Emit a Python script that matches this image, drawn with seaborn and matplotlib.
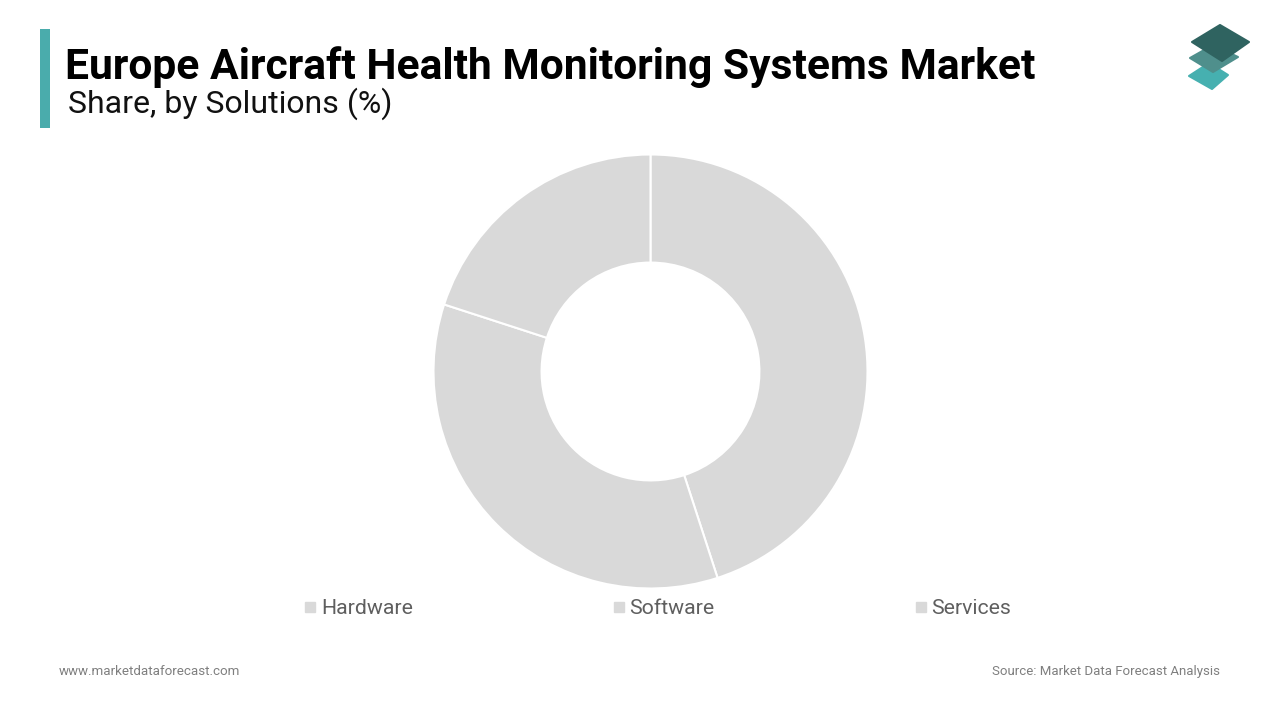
import matplotlib
matplotlib.use("Agg")
import matplotlib.pyplot as plt
import seaborn as sns
from matplotlib.patches import Polygon, Rectangle
from matplotlib.lines import Line2D

# Data
solutions = ["Hardware", "Software", "Services"]
shares = [45, 35, 20]

title = "Europe Aircraft Health Monitoring Systems Market"
subtitle = "Share, by Solutions (%)"
site = "www.marketdataforecast.com"
source = "Source: Market Data Forecast Analysis"

SLICE_GREY = "#d9d9d9"
palette = sns.color_palette([SLICE_GREY] * len(solutions))

sns.set_theme(style="white")
plt.rcParams["font.family"] = ["Roboto", "DejaVu Sans"]

W, H = 1280, 720
fig = plt.figure(figsize=(W / 100, H / 100), dpi=100, facecolor="white")

# overlay in pixel coordinates (origin top left) for header, footer, logo
bg = fig.add_axes([0, 0, 1, 1])
bg.set_xlim(0, W)
bg.set_ylim(H, 0)
bg.axis("off")

bg.add_patch(Rectangle((40, 29), 10, 99, color="#4aacac", lw=0))
bg.text(65, 67, title, fontsize=30.72, fontweight="bold", color="black", va="center", ha="left")
bg.text(67.5, 104, subtitle, fontsize=23, color="#111111", va="center", ha="left")
bg.text(59, 671.5, site, fontsize=9.6, color="#7f7f7f", va="center", ha="left")
bg.text(1220, 671.5, source, fontsize=9.57, color="#7f7f7f", va="center", ha="right")

# logo, three stacked plates
plates = [
    ([(1209, 63), (1228, 75), (1212, 89), (1189, 76)], "#46b0b0"),
    ([(1213, 45), (1238, 57), (1213, 72), (1190, 58)], "#4f8f8c"),
    ([(1220, 25), (1249, 42), (1222, 61), (1192, 42)], "#2f6360"),
]
for pts, col in plates:
    bg.add_patch(Polygon(pts, closed=True, facecolor=col, edgecolor=col, lw=1.5, joinstyle="round"))

# donut
cx, cy, r = 650.5, 371.5, 217.0
ax = fig.add_axes([(cx - r) / W, 1 - (cy + r) / H, 2 * r / W, 2 * r / H])
wedges, _ = ax.pie(
    shares,
    colors=palette,
    startangle=90,
    counterclock=False,
    radius=1,
    wedgeprops=dict(width=0.498, edgecolor="white", linewidth=1.5),
)
ax.set_xlim(-1, 1)
ax.set_ylim(-1, 1)
ax.set_aspect("equal")

handles = [
    Line2D([], [], linestyle="none", marker="s", markersize=7.2, color=SLICE_GREY)
    for _ in solutions
]
leg = fig.legend(
    handles,
    solutions,
    ncol=3,
    frameon=False,
    fontsize=15.3,
    labelcolor="#5f5f5f",
    loc="center",
    bbox_to_anchor=(655.5 / W, 1 - 609 / H),
    columnspacing=9.2,
    handletextpad=0.0,
    handlelength=1.0,
)

fig.savefig("out.png", dpi=100, facecolor="white")
